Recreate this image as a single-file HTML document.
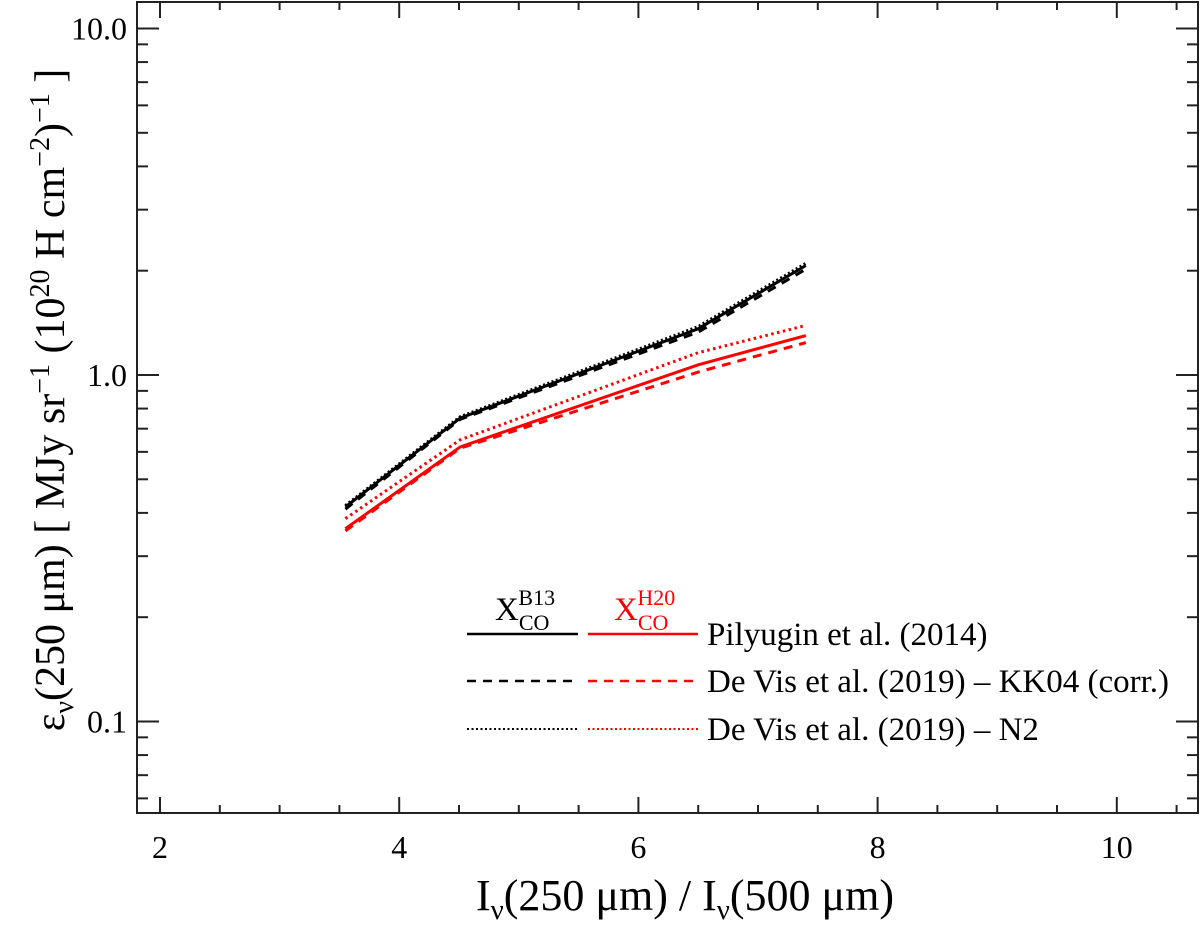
<!DOCTYPE html>
<html><head><meta charset="utf-8"><style>
body{margin:0;background:#fff}
svg text{font-family:"Liberation Serif",serif;}
</style></head><body>
<svg id="chart" width="1200" height="936" viewBox="0 0 1200 936" xmlns="http://www.w3.org/2000/svg">
<g id="ticks"></g>
<g id="series"></g>
<rect x="137" y="2" width="1061" height="811" fill="none" stroke="#222" stroke-width="2"/>
<text x="685" y="910" font-size="44" text-anchor="middle">I<tspan font-size="29" dy="9">ν</tspan><tspan dy="-9">(250 μm) / I</tspan><tspan font-size="29" dy="9">ν</tspan><tspan dy="-9">(500 μm)</tspan></text>
<text transform="translate(64,400) rotate(-90)" font-size="42" text-anchor="middle">ε<tspan font-size="28" dy="9">ν</tspan><tspan dy="-9">(250 μm) [ MJy sr</tspan><tspan font-size="28" dy="-15">−1</tspan><tspan dy="15"> (10</tspan><tspan font-size="28" dy="-15">20</tspan><tspan dy="15"> H cm</tspan><tspan font-size="28" dy="-15">−2</tspan><tspan dy="15">)</tspan><tspan font-size="28" dy="-15">−1</tspan><tspan dy="15"> ]</tspan></text>
<g font-size="33">
<text x="495" y="620">X<tspan font-size="22" dy="10">CO</tspan><tspan font-size="22" dx="-31" dy="-25">B13</tspan></text>
<text x="614" y="620" fill="#f00">X<tspan font-size="22" dy="10">CO</tspan><tspan font-size="22" dx="-31" dy="-25">H20</tspan></text>
<line x1="467" y1="634" x2="578" y2="634" stroke="#000" stroke-width="2.5"/>
<line x1="588" y1="634" x2="698" y2="634" stroke="#f00" stroke-width="2.5"/>
<line x1="467" y1="681" x2="578" y2="681" stroke="#000" stroke-width="2.5" stroke-dasharray="9,7"/>
<line x1="588" y1="681" x2="698" y2="681" stroke="#f00" stroke-width="2.5" stroke-dasharray="9,7"/>
<line x1="467" y1="729" x2="578" y2="729" stroke="#000" stroke-width="2" stroke-dasharray="2,2.5"/>
<line x1="588" y1="729" x2="698" y2="729" stroke="#f00" stroke-width="2" stroke-dasharray="2,2.5"/>
<text x="707" y="645">Pilyugin et al. (2014)</text>
<text x="707" y="692">De Vis et al. (2019) – KK04 (corr.)</text>
<text x="707" y="740">De Vis et al. (2019) – N2</text>
</g>
</svg>
<script>
const xTicks=[2,4,6,8,10];
const yTicks=[0.1,1,10];
const yTickLabels=["0.1","1.0","10.0"];
const xs=[3.55,4.51,6.5,7.4];
const blackSolid=[0.416,0.751,1.36,2.07];
const blackDashed=[0.41,0.745,1.33,2.02];
const blackDotted=[0.42,0.758,1.38,2.1];
const redSolid=[0.36,0.62,1.07,1.30];
const redDashed=[0.355,0.615,1.02,1.24];
const redDotted=[0.385,0.65,1.16,1.39];
const L=137,R=1198,T=2,B=813;
const sx=v=>160+(v-2)*119.6;
const sy=v=>375-Math.log10(v)*346.5;
const NS="http://www.w3.org/2000/svg";
const tg=document.getElementById('ticks');
function ln(x1,y1,x2,y2){const l=document.createElementNS(NS,'line');l.setAttribute('x1',x1);l.setAttribute('y1',y1);l.setAttribute('x2',x2);l.setAttribute('y2',y2);l.setAttribute('stroke','#222');l.setAttribute('stroke-width',2);


tg.appendChild(l);}
function tx(x,y,s,anchor,name){const t=document.createElementNS(NS,'text');t.setAttribute('x',x);t.setAttribute('y',y);t.setAttribute('font-size',32);t.setAttribute('text-anchor',anchor);t.textContent=s;


tg.appendChild(t);}
for(let v=2;v<=10.5;v+=0.5){const x=sx(v);const big=Math.abs(v-Math.round(v/2)*2)<1e-6;const len=big?16:8;ln(x,B,x,B-len);ln(x,T,x,T+len);}
xTicks.forEach(v=>tx(sx(v),858,String(v),'middle','x-tick-label'));
for(let d=-2;d<=1;d++){for(let m=1;m<=9;m++){const v=m*Math.pow(10,d);const y=sy(v);if(y<T||y>B)continue;const len=m==1?22:11;ln(L,y,L+len,y);ln(R,y,R-len,y);}}
yTicks.forEach((v,i)=>tx(127,sy(v)+11,yTickLabels[i],'end','y-tick-label'));
const sg=document.getElementById('series');
function series(vals,color,dash,w,name){const p=document.createElementNS(NS,'polyline');p.setAttribute('points',xs.map((x,i)=>sx(x)+','+sy(vals[i])).join(' '));p.setAttribute('fill','none');p.setAttribute('stroke',color);p.setAttribute('stroke-width',w);if(dash)p.setAttribute('stroke-dasharray',dash);


sg.appendChild(p);}
series(blackSolid,'#000',null,3,'line-b13-pilyugin');
series(blackDashed,'#000','9,7',3,'line-b13-kk04');
series(blackDotted,'#000','2,2.5',3,'line-b13-n2');
series(redSolid,'#f00',null,3,'line-h20-pilyugin');
series(redDashed,'#f00','9,7',3,'line-h20-kk04');
series(redDotted,'#f00','2.5,3.5',3,'line-h20-n2');
</script>
</body></html>
